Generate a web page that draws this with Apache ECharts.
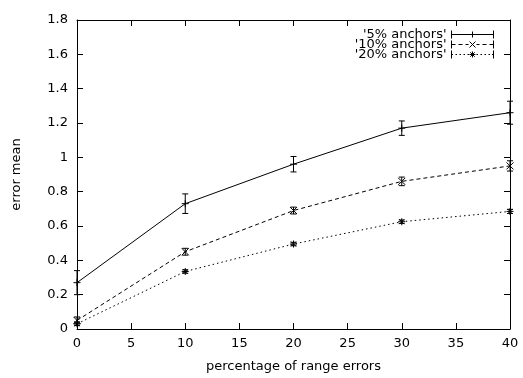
<!DOCTYPE html>
<html>
<head>
<meta charset="utf-8">
<title>error mean vs range errors</title>
<script src="https://cdn.jsdelivr.net/npm/echarts@6/dist/echarts.min.js"></script>
<style>
  html, body { margin: 0; padding: 0; background: #fff; }
  #chart { width: 523px; height: 378px; }
</style>
</head>
<body>
<div id="chart"></div>
<script>
// x values: percentage of range errors
const rangeErrors = [0, 10, 20, 30, 40];

// series names
const seriesNames = ["'5% anchors'", "'10% anchors'", "'20% anchors'"];

// error mean per series
const mean5 = [0.27, 0.73, 0.96, 1.17, 1.26];
const mean10 = [0.05, 0.45, 0.69, 0.86, 0.95];
const mean20 = [0.03, 0.335, 0.495, 0.625, 0.685];

// half-height of error bars
const err5 = [0.07, 0.057, 0.045, 0.042, 0.067];
const err10 = [0.02, 0.02, 0.02, 0.025, 0.03];
const err20 = [0.01, 0.01, 0.01, 0.01, 0.012];

// axis ticks
const xTicks = [0, 5, 10, 15, 20, 25, 30, 35, 40];
const yTicks = [0, 0.2, 0.4, 0.6, 0.8, 1, 1.2, 1.4, 1.6, 1.8];

const FONT = 'DejaVu Sans';

// point markers (stroked paths)
const plusSymbol = 'path://M0,5L10,5M5,0L5,10';
const crossSymbol = 'path://M0,0L10,10M10,0L0,10';
const starSymbol = 'path://M0,5L10,5M5,0L5,10M1.5,1.5L8.5,8.5M8.5,1.5L1.5,8.5';

// legend samples: line with end caps and the marker in the middle
const legendIcons = [
  'path://M0,0V8M0,4H42M42,0V8M21,1V7M18,4H24',
  'path://M0,0V8M0,4H4M7,4H11M14,4H17M18,1L24,7M24,1L18,7M25,4H28M31,4H35M38,4H42M42,0V8',
  'path://M0,0V8M0,4H1.5M4,4H5.5M8,4H9.5M12,4H13.5M16,4H17.5M18,4H24M21,1V7M18.8,1.8L23.2,6.2M23.2,1.8L18.8,6.2M25,4H26.5M29,4H30.5M33,4H34.5M37,4H38.5M40.5,4H42M42,0V8'
];

const means = [mean5, mean10, mean20];
const errs = [err5, err10, err20];
const symbols = [plusSymbol, crossSymbol, starSymbol];
const dashes = ['solid', [4, 3], [1.5, 3]];

// draw one error bar: vertical line with caps
function renderErrorBar(params, api) {
  const x = api.value(0);
  const lo = api.coord([x, api.value(1)]);
  const hi = api.coord([x, api.value(2)]);
  const w = 3;
  const style = { stroke: '#000', lineWidth: 1, fill: null };
  return {
    type: 'group',
    children: [
      { type: 'line', shape: { x1: lo[0], y1: lo[1], x2: hi[0], y2: hi[1] }, style: style },
      { type: 'line', shape: { x1: lo[0] - w, y1: lo[1], x2: lo[0] + w, y2: lo[1] }, style: style },
      { type: 'line', shape: { x1: hi[0] - w, y1: hi[1], x2: hi[0] + w, y2: hi[1] }, style: style }
    ]
  };
}

const lineSeries = seriesNames.map(function (name, i) {
  return {
    name: name,
    type: 'line',
    data: rangeErrors.map(function (x, j) { return [x, means[i][j]]; }),
    symbol: symbols[i],
    symbolSize: 7,
    showSymbol: true,
    clip: false,
    z: 3,
    lineStyle: { color: '#000', width: 1, type: dashes[i] },
    itemStyle: { color: '#000', borderColor: '#000', borderWidth: 1 },
    emphasis: { disabled: true }
  };
});

const barSeries = seriesNames.map(function (name, i) {
  return {
    name: name,
    type: 'custom',
    renderItem: renderErrorBar,
    encode: { x: 0, y: [1, 2] },
    data: rangeErrors.map(function (x, j) {
      return [x, means[i][j] - errs[i][j], means[i][j] + errs[i][j]];
    }),
    z: 4,
    silent: true
  };
});

const axisCommon = {
  axisLine: { show: true, onZero: false, lineStyle: { color: '#000', width: 1 } },
  axisTick: { show: true, inside: true, length: 6, lineStyle: { color: '#000' } },
  splitLine: { show: false }
};

const chart = echarts.init(document.getElementById('chart'), null, { renderer: 'canvas' });

chart.setOption({
  animation: false,
  backgroundColor: '#fff',
  textStyle: { fontFamily: FONT },
  grid: { left: 77, right: 13, top: 20, bottom: 44 },
  legend: {
    orient: 'vertical',
    right: 22,
    top: 23,
    align: 'right',
    itemWidth: 42,
    itemHeight: 8,
    itemGap: -3,
    selectedMode: false,
    data: seriesNames.map(function (name, i) {
      return { name: name, icon: legendIcons[i] };
    }),
    itemStyle: { color: 'none', borderColor: '#000', borderWidth: 1 },
    textStyle: { fontFamily: FONT, fontSize: 13, color: '#000', lineHeight: 10 }
  },
  xAxis: [
    Object.assign({}, axisCommon, {
      type: 'value',
      position: 'bottom',
      min: xTicks[0],
      max: xTicks[xTicks.length - 1],
      interval: xTicks[1] - xTicks[0],
      name: 'percentage of range errors',
      nameLocation: 'middle',
      nameGap: 31,
      nameTextStyle: { fontFamily: FONT, fontSize: 13, color: '#000' },
      axisLabel: { margin: 8, fontFamily: FONT, fontSize: 13, color: '#000' }
    }),
    Object.assign({}, axisCommon, {
      type: 'value',
      position: 'top',
      min: xTicks[0],
      max: xTicks[xTicks.length - 1],
      interval: xTicks[1] - xTicks[0],
      axisLabel: { show: false }
    })
  ],
  yAxis: [
    Object.assign({}, axisCommon, {
      type: 'value',
      position: 'left',
      min: yTicks[0],
      max: yTicks[yTicks.length - 1],
      interval: 0.2,
      name: 'error mean',
      nameLocation: 'middle',
      nameRotate: 90,
      nameGap: 54,
      nameTextStyle: { fontFamily: FONT, fontSize: 13, color: '#000' },
      axisLabel: {
        margin: 9,
        fontFamily: FONT,
        fontSize: 13,
        color: '#000',
        formatter: function (v) { return String(+v.toFixed(1)); }
      }
    }),
    Object.assign({}, axisCommon, {
      type: 'value',
      position: 'right',
      min: yTicks[0],
      max: yTicks[yTicks.length - 1],
      interval: 0.2,
      axisLabel: { show: false }
    })
  ],
  series: lineSeries.concat(barSeries)
});
</script>
</body>
</html>
